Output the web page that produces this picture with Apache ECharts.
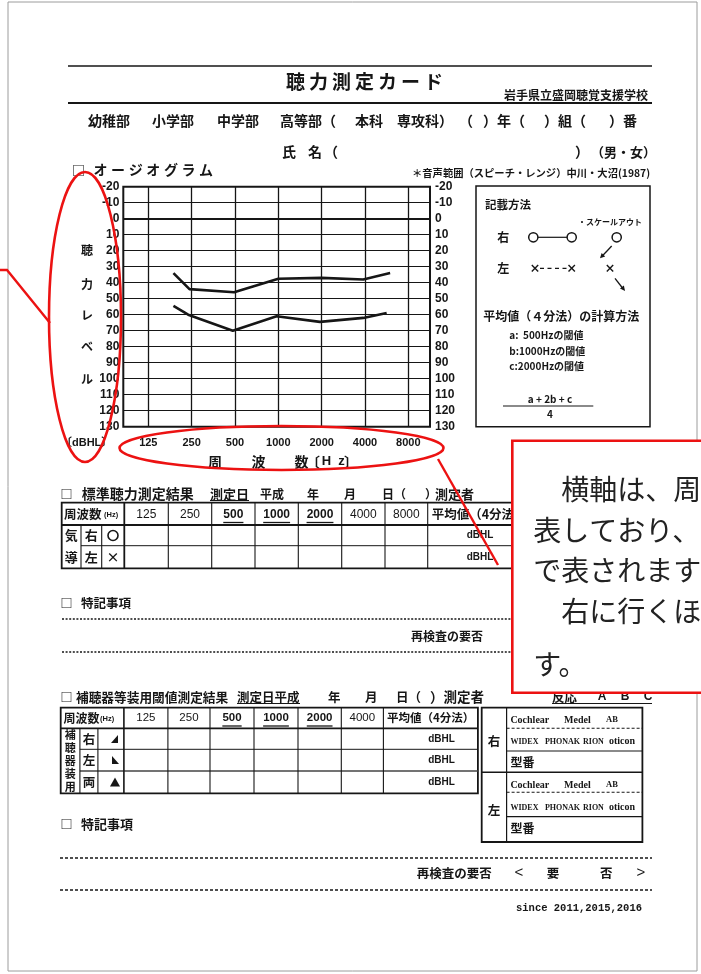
<!DOCTYPE html>
<html><head><meta charset="utf-8">
<script src="https://cdn.jsdelivr.net/npm/echarts@6/dist/echarts.min.js"></script>
<style>html,body{margin:0;padding:0;background:#fff}#c{width:701px;height:974px}</style>
</head><body><div id="c"></div>
<script>
// ---------- data ----------
const freqLabels = ['125', '250', '500', '1000', '2000', '4000', '8000'];
const freqPos = [0, 1, 2, 3, 4, 5, 6];           // octave index of each audiometric frequency
const dbMin = -20, dbMax = 130, dbStep = 10;
// speech range (Nakagawa & Onuma 1987) – upper and lower boundary
const upperX  = [0.58, 0.95, 1.98, 3.0, 4.0, 4.96, 5.58];
const upperDb = [34, 44, 46, 37.5, 37, 38, 34];
const lowerX  = [0.58, 0.92, 1.95, 2.96, 3.96, 4.96, 5.5];
const lowerDb = [54.5, 60, 70, 61, 64.5, 62, 59];
const table1Freqs = ['125', '250', '500', '1000', '2000', '4000', '8000'];
const table2Freqs = ['125', '250', '500', '1000', '2000', '4000'];
const underlinedFreqs = ['500', '1000', '2000'];
const levelChars = ['聴', '力', 'レ', 'ベ', 'ル'];
const aidChars = ['補', '聴', '器', '装', '用'];
const calloutLines = ['　横軸は、周', '表しており、', 'で表されます', '　右に行くほ', 'す。'];

// ---------- helpers ----------
const INK = '#161616', RED = '#ec1212';
const JP = '"Noto Sans CJK JP","Noto Sans",sans-serif';
const SANS = '"Liberation Sans","Noto Sans CJK JP",sans-serif';
const SERIF = '"Liberation Serif","DejaVu Serif",serif';
const MONO = '"Liberation Mono","DejaVu Sans Mono",monospace';
const G = [];
function T(text, x, y, size, o) {
  o = o || {};
  const al = o.align || 'left';
  const el = {type: 'text', z: o.z || 10, silent: true,
    style: {text: text, x: x, y: y, fill: o.fill || INK,
      font: (o.weight || 'bold') + ' ' + size + 'px ' + (o.family || JP),
      textAlign: al, textVerticalAlign: 'middle'}};
  G.push(el);
}
function L(x1, y1, x2, y2, w, dash, o) {
  o = o || {};
  G.push({type: 'line', z: o.z || 10, silent: true, shape: {x1: x1, y1: y1, x2: x2, y2: y2},
    style: {stroke: o.stroke || INK, lineWidth: w || 1, lineDash: dash || null}});
}
function R(x, y, w, h, lw, o) {
  o = o || {};
  G.push({type: 'rect', z: o.z || 10, silent: true, shape: {x: x, y: y, width: w, height: h},
    style: {fill: o.fill || 'none', stroke: o.stroke || INK, lineWidth: lw}});
}
function P(points, o) {
  o = o || {};
  G.push({type: 'polygon', z: o.z || 10, silent: true, shape: {points: points}, style: {fill: o.fill || INK}});
}

// page frame
R(8, 2, 689, 969, 1, {stroke: '#9c9c9c', z: 1});

// ---------- header ----------
L(68, 66, 652, 66, 1.5);
'聴力測定カード'.split('').forEach((ch, i) => T(ch, 295.5 + i * 23, 82, 19, {align: 'center'}));
T('岩手県立盛岡聴覚支援学校', 504, 95, 12);
L(68, 103, 652, 103, 2.2);
const rowY = 121;
T('幼稚部', 88, rowY, 14); T('小学部', 152, rowY, 14); T('中学部', 217, rowY, 14);
T('高等部（', 280, rowY, 14); T('本科', 355, rowY, 14); T('専攻科', 397, rowY, 14); T('）', 439, rowY, 14);
T('（', 459, rowY, 14); T('）年（', 483, rowY, 14); T('）組（', 544, rowY, 14); T('）番', 609, rowY, 14);
T('氏', 282, 152, 14); T('名', 308, 152, 14); T('（', 324, 152, 14); T('）', 575, 152, 14);
T('（男・女）', 656, 152, 13, {align: 'right'});
T('□', 72, 170, 13);
'オージオグラム'.split('').forEach((ch, i) => T(ch, 100.5 + i * 17.6, 170, 14, {align: 'center'}));
T('＊音声範囲（スピーチ・レンジ）中川・大沼(1987)', 412, 173, 10.3);

// axis side texts
const levelY = [250.7, 284, 315.7, 346.7, 379];
levelChars.forEach((ch, i) => T(ch, 87, levelY[i], 12, {align: 'center'}));
T('〔dBHL〕', 61, 443, 11, {family: SANS});
T('周', 215, 461.7, 14, {align: 'center'});
T('波', 258.5, 461.7, 14, {align: 'center'});
T('数', 301.5, 461.7, 14, {align: 'center'});
T('〔', 313, 461.7, 14, {align: 'center'});
T('H', 326.5, 461.7, 13, {align: 'center', family: SANS});
T('z', 341.5, 461.7, 13, {align: 'center', family: SANS});
T('〕', 351, 461.7, 14, {align: 'center'});

// ---------- legend box ----------
R(476, 186, 174, 240.7, 1.5);
T('記載方法', 485, 204.3, 11.5);
T('・スケールアウト', 578, 222.3, 8);
T('右', 503.3, 237.3, 12, {align: 'center'});
L(537.8, 237.3, 567.2, 237.3, 1.2);
[533.3, 571.7, 616.7].forEach(cx => G.push({type: 'circle', z: 11, silent: true, shape: {cx: cx, cy: 237.3, r: 4.6}, style: {fill: '#fff', stroke: INK, lineWidth: 1.5}}));
L(611.7, 246, 602.5, 255.8, 1.3);
P([[600, 258.3], [605.2, 256.4], [601.6, 253.0]]);
T('左', 503.3, 268.3, 12, {align: 'center'});
function X(cx, cy) { L(cx - 3.2, cy - 3.2, cx + 3.2, cy + 3.2, 1.4); L(cx - 3.2, cy + 3.2, cx + 3.2, cy - 3.2, 1.4); }
X(535, 268.3); X(571.7, 268.3); X(610, 268.3);
L(540, 268.3, 567, 268.3, 1.2, [4, 3.5]);
L(615, 278.3, 622.5, 288, 1.3);
P([[625, 291], [623.9, 285.5], [620, 288.6]]);
T('平均値（４分法）の計算方法', 483.3, 316.7, 12);
T('a:  500Hzの閾値', 509.3, 335, 10);
T('b:1000Hzの閾値', 509.3, 351.7, 10);
T('c:2000Hzの閾値', 509.3, 366.7, 10);
T('a + 2b + c', 550, 399.3, 10, {align: 'center'});
L(503, 406, 593.3, 406, 1.2);
T('4', 550, 414.5, 10, {align: 'center'});

// ---------- table 1 : standard audiometry ----------
T('□', 60.5, 494, 12); T('標準聴力測定結果', 81.7, 494, 14);
T('測定日', 210, 494, 13); L(210, 500.5, 249, 500.5, 1.2);
T('平成', 260, 494, 12); T('年', 307, 494, 12); T('月', 344, 494, 12);
T('日（', 382, 494, 12); T('）', 425, 494, 12); T('測定者', 435, 494, 13);
const t1Top = 502.7, t1H = 525, t1R2 = 545.7, t1Bot = 568.3, t1Right = 545;
const t1Cols = [124.3, 168.3, 211.7, 255, 298.3, 341.7, 385, 427.7];
R(61.7, t1Top, t1Right - 61.7, t1Bot - t1Top, 1.8);
L(61.7, t1H, t1Right, t1H, 1.8);
L(81, t1R2, t1Right, t1R2, 1);
L(81, t1H, 81, t1Bot, 1.1); L(101.7, t1H, 101.7, t1Bot, 1.1);
t1Cols.forEach((x, i) => L(x, t1Top, x, t1Bot, i === 0 ? 1.8 : 1.1));
T('周波数', 64, 514, 12.5); T('(Hz)', 104, 514.5, 7.5, {family: SANS});
function freqHead(list, cols, y, size) {
  list.forEach((f, i) => {
    const cx = (cols[i] + cols[i + 1]) / 2;
    const u = underlinedFreqs.indexOf(f) >= 0;
    T(f, cx, y, size, {align: 'center', family: SANS, weight: u ? 'bold' : 'normal'});
    if (u) { const w = f.length * size * 0.56; L(cx - w / 2, y + 8, cx + w / 2, y + 8, 1.3); }
  });
}
freqHead(table1Freqs, t1Cols, 514.5, 12);
T('平均値（4分法）', 431.7, 514, 12.5);
T('気', 71.3, 535.5, 13, {align: 'center'}); T('導', 71.3, 557.5, 13, {align: 'center'});
T('右', 91.3, 535.5, 13, {align: 'center'}); T('左', 91.3, 557.5, 13, {align: 'center'});
G.push({type: 'circle', z: 10, silent: true, shape: {cx: 113, cy: 535.5, r: 5}, style: {fill: 'none', stroke: INK, lineWidth: 1.6}});
T('×', 113, 557.5, 13, {align: 'center'});
T('dBHL', 480, 535.5, 10, {align: 'center', family: SANS});
T('dBHL', 480, 557.5, 10, {align: 'center', family: SANS});

// ---------- notes 1 ----------
T('□', 60.5, 603, 12); T('特記事項', 81, 603, 12.5);
L(62, 619, 650, 619, 1.3, [2, 1.6]);
T('再検査の要否', 411, 636.5, 12);
L(62, 652, 650, 652, 1.3, [2, 1.6]);

// ---------- table 2 : aided thresholds ----------
T('□', 60.5, 697, 12); T('補聴器等装用閾値測定結果', 76, 697, 12.7);
T('測定日平成', 237, 697, 12.5); L(237, 703.5, 300, 703.5, 1.2);
T('年', 328, 697, 12.5); T('月', 365, 697, 12.5); T('日（', 396, 697, 12.5); T('）測定者', 430, 697, 13.5);
T('反応', 552, 697, 12.5);
T('A', 602, 697, 12, {align: 'center', family: SANS}); T('B', 625, 697, 12, {align: 'center', family: SANS}); T('C', 648, 697, 12, {align: 'center', family: SANS});
L(552, 703.5, 652, 703.5, 1.2);
const t2Top = 707.7, t2H = 728.3, t2R2 = 749.3, t2R3 = 771, t2Bot = 793.3, t2Right = 477.9;
const t2Cols = [123.9, 167.9, 210, 254, 298, 341.3, 383.4];
R(60.7, t2Top, t2Right - 60.7, t2Bot - t2Top, 1.8);
L(60.7, t2H, t2Right, t2H, 1.8);
L(79.9, t2R2, t2Right, t2R2, 1); L(79.9, t2R3, t2Right, t2R3, 1.6, null, {stroke: '#444'});
L(79.9, t2H, 79.9, t2Bot, 1.1); L(97.9, t2H, 97.9, t2Bot, 1.1);
t2Cols.forEach((x, i) => L(x, t2Top, x, t2Bot, i === 0 ? 1.6 : 1.1));
T('周波数', 63.5, 718, 12); T('(Hz)', 100, 718.5, 7.5, {family: SANS});
freqHead(table2Freqs, t2Cols, 718, 11.5);
T('平均値（4分法）', 430.6, 718, 11.5, {align: 'center'});
aidChars.forEach((ch, i) => T(ch, 70.3, 735 + i * 13, 11, {align: 'center'}));
T('右', 88.9, 738.8, 12.5, {align: 'center'}); T('左', 88.9, 760.2, 12.5, {align: 'center'}); T('両', 88.9, 782.2, 12.5, {align: 'center'});
P([[111, 743], [118, 743], [118, 735]]);
P([[112, 764], [119, 764], [112, 756]]);
P([[110, 786.5], [120, 786.5], [115, 777.5]]);
[738.8, 760.2, 782.2].forEach(y => T('dBHL', 441.5, y, 10, {align: 'center', family: SANS}));
// maker box
R(481.7, t2Top, 160.7, 842 - t2Top, 1.8);
L(481.7, 772.3, 642.4, 772.3, 1.6);
L(506.6, t2Top, 506.6, 842, 1.2);
L(506.6, 728.3, 642.4, 728.3, 1.1, [3, 2]);
L(506.6, 751, 642.4, 751, 1.2);
L(506.6, 792.3, 642.4, 792.3, 1.1, [3, 2]);
L(506.6, 816.7, 642.4, 816.7, 1.2);
T('右', 494, 741.7, 12.5, {align: 'center'}); T('左', 494, 810, 12.5, {align: 'center'});
[[720, 741.7, 762.3], [785, 807.5, 828]].forEach(r => {
  T('Cochlear', 510.4, r[0], 10, {family: SERIF}); T('Medel', 564, r[0], 10, {family: SERIF}); T('AB', 606, r[0], 8.5, {family: SERIF});
  T('WIDEX', 510.4, r[1], 8, {family: SERIF}); T('PHONAK', 544.9, r[1], 8, {family: SERIF});
  T('RION', 583, r[1], 8, {family: SERIF}); T('oticon', 609, r[1], 10, {family: SERIF});
  T('型番', 510.4, r[2], 12);
});

// ---------- notes 2 ----------
T('□', 60.5, 824.3, 12); T('特記事項', 81, 824.3, 13);
L(60, 858, 652, 858, 1.3, [3, 2]);
T('再検査の要否', 416.7, 873, 12.5);
T('<', 519, 873, 15, {align: 'center', family: SANS, weight: 'normal'});
T('要', 546.8, 873, 12.5); T('否', 600, 873, 12.5);
T('>', 641, 873, 15, {align: 'center', family: SANS, weight: 'normal'});
L(60, 890, 652, 890, 1.3, [3, 2]);
T('since 2011,2015,2016', 516, 908, 10.5, {family: MONO});

// ---------- red annotations ----------
G.push({type: 'ellipse', z: 50, silent: true, shape: {cx: 85, cy: 317, rx: 36, ry: 145}, style: {fill: 'none', stroke: RED, lineWidth: 2.6}});
G.push({type: 'polyline', z: 50, silent: true, shape: {points: [[0, 270], [7, 270], [50, 323]]}, style: {fill: 'none', stroke: RED, lineWidth: 2.4}});
G.push({type: 'ellipse', z: 50, silent: true, shape: {cx: 281.5, cy: 448, rx: 162, ry: 22}, style: {fill: 'none', stroke: RED, lineWidth: 2.6}});
L(438, 459, 498, 565, 2.4, null, {stroke: RED, z: 50});
R(512.3, 440.7, 300, 252, 2.6, {fill: '#fff', stroke: RED, z: 100});
const calloutY = [489, 530, 570, 611.5, 664.5];
calloutLines.forEach((s, i) => G.push({type: 'text', z: 101, silent: true,
  style: {text: s, x: 533.3, y: calloutY[i], fill: '#222', font: 'normal 28px ' + JP, textAlign: 'left', textVerticalAlign: 'middle'}}));

// ---------- audiogram ----------
const pairs = (xs, ys) => xs.map((x, i) => [x, ys[i]]);
const yAxisBase = {
  type: 'value', inverse: true, min: dbMin, max: dbMax, interval: dbStep,
  axisLine: {show: false}, axisTick: {show: false},
  axisLabel: {fontSize: 12, fontWeight: 'bold', color: INK, fontFamily: SANS}
};
const option = {
  animation: false,
  backgroundColor: '#fff',
  grid: {left: 123.3, top: 186.7, width: 306.7, height: 240, show: true, borderColor: INK, borderWidth: 2,
         containLabel: false, outerBoundsMode: 'none'},
  xAxis: {
    type: 'value', min: -0.577, max: 6.5,
    axisLine: {show: false}, axisTick: {show: false}, splitLine: {show: false},
    axisLabel: {customValues: freqPos, formatter: v => freqLabels[Math.round(v)] || '', margin: 11,
                fontSize: 11, fontWeight: 'bold', color: INK, fontFamily: SANS}
  },
  yAxis: [
    Object.assign({}, yAxisBase, {position: 'left', axisLabel: Object.assign({}, yAxisBase.axisLabel, {margin: 4}),
      splitLine: {show: true, lineStyle: {color: INK, width: 1.2}}}),
    Object.assign({}, yAxisBase, {position: 'right', axisLabel: Object.assign({}, yAxisBase.axisLabel, {margin: 5}),
      splitLine: {show: false}})
  ],
  series: [
    {type: 'line', data: pairs(upperX, upperDb), symbol: 'none', z: 5,
     lineStyle: {color: INK, width: 2.6},
     markLine: {silent: true, symbol: ['none', 'none'], label: {show: false}, animation: false,
       lineStyle: {color: INK, width: 1.3, type: 'solid'},
       data: freqPos.map(v => ({xAxis: v})).concat([{yAxis: 0, lineStyle: {color: INK, width: 2.2, type: 'solid'}}])}},
    {type: 'line', data: pairs(lowerX, lowerDb), symbol: 'none', z: 5,
     lineStyle: {color: INK, width: 2.6}}
  ],
  graphic: {elements: G}
};
const chart = echarts.init(document.getElementById('c'), null, {renderer: 'canvas', width: 701, height: 974});
chart.setOption(option);
</script>
</body></html>
